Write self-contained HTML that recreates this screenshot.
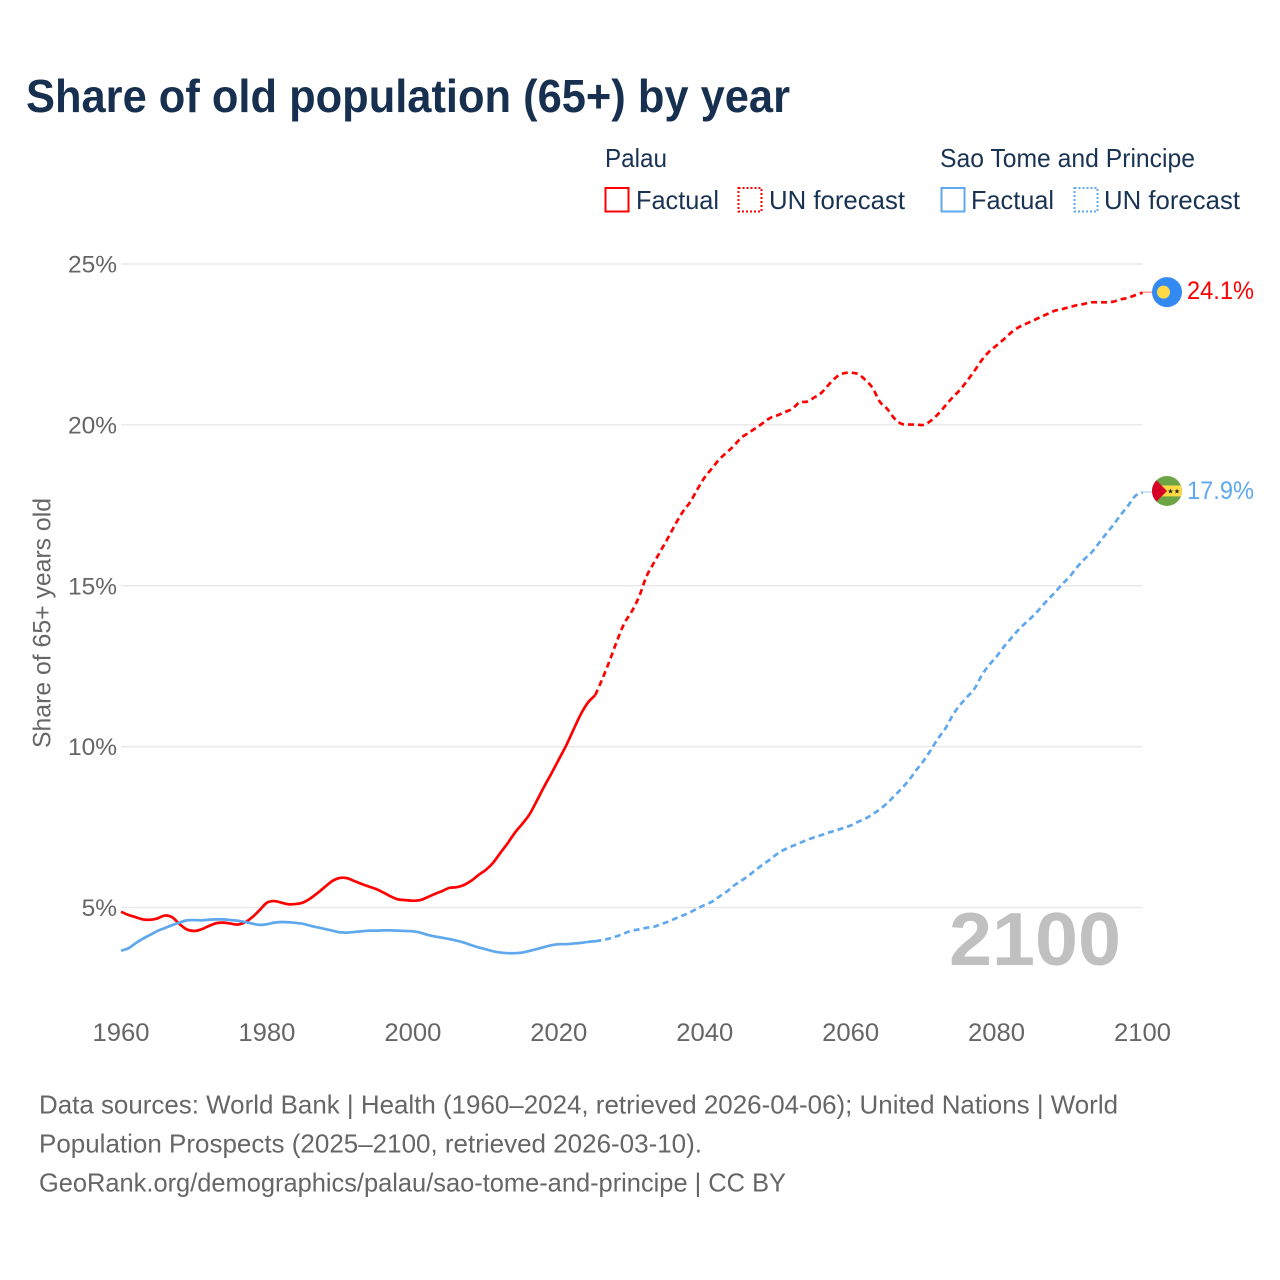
<!DOCTYPE html>
<html lang="en">
<head>
<meta charset="utf-8">
<title>Share of old population (65+) by year</title>
<style>
html,body{margin:0;padding:0;background:#fff;width:1280px;height:1280px;overflow:hidden}
svg{display:block}
text{font-family:"Liberation Sans",sans-serif}
</style>
</head>
<body>
<svg id="chart" xmlns="http://www.w3.org/2000/svg" width="1280" height="1280" viewBox="0 0 1280 1280">
  <rect width="1280" height="1280" fill="#fff"/>
  <text x="26" y="112" font-size="46" font-weight="700" fill="#18304f" textLength="764" lengthAdjust="spacingAndGlyphs">Share of old population (65+) by year</text>

  <g font-size="26" fill="#1a3353">
    <text x="605" y="167" textLength="62" lengthAdjust="spacingAndGlyphs">Palau</text>
    <rect x="605.5" y="188" width="23" height="23.5" fill="none" stroke="#ff0000" stroke-width="2"/>
    <text x="636" y="209" textLength="83" lengthAdjust="spacingAndGlyphs">Factual</text>
    <rect x="738.5" y="188" width="23" height="23.5" fill="none" stroke="#ff0000" stroke-width="2" stroke-dasharray="2 2"/>
    <text x="769" y="209" textLength="136" lengthAdjust="spacingAndGlyphs">UN forecast</text>

    <text x="940" y="167" textLength="255" lengthAdjust="spacingAndGlyphs">Sao Tome and Principe</text>
    <rect x="941.5" y="188" width="23" height="23.5" fill="none" stroke="#5fa8ee" stroke-width="2"/>
    <text x="971" y="209" textLength="83" lengthAdjust="spacingAndGlyphs">Factual</text>
    <rect x="1074.5" y="188" width="23" height="23.5" fill="none" stroke="#5fa8ee" stroke-width="2" stroke-dasharray="2 2"/>
    <text x="1104" y="209" textLength="136" lengthAdjust="spacingAndGlyphs">UN forecast</text>
  </g>

  <g id="grid"></g>
  <g id="yticks"></g>
  <g id="xticks"></g>

  <text transform="translate(50.5 748) rotate(-90)" font-size="25" fill="#666666" textLength="250" lengthAdjust="spacingAndGlyphs">Share of 65+ years old</text>

  <text id="year-watermark" x="949" y="965" font-size="75" font-weight="700" fill="#c0c0c0" textLength="172" lengthAdjust="spacingAndGlyphs">2100</text>

  <g id="series"></g>
  <g id="endpoints"></g>

  <g font-size="26" fill="#666666">
    <text x="39" y="1113.5" textLength="1079" lengthAdjust="spacingAndGlyphs">Data sources: World Bank | Health (1960–2024, retrieved 2026-04-06); United Nations | World</text>
    <text x="39" y="1152.5" textLength="663" lengthAdjust="spacingAndGlyphs">Population Prospects (2025–2100, retrieved 2026-03-10).</text>
    <text x="39" y="1191.5" textLength="747" lengthAdjust="spacingAndGlyphs">GeoRank.org/demographics/palau/sao-tome-and-principe | CC BY</text>
  </g>
</svg>

<script>
const xTickYears = [1960, 1980, 2000, 2020, 2040, 2060, 2080, 2100];
const yTickValues = [5, 10, 15, 20, 25];

const factualStartYear = 1960;
const forecastStartYear = 2025;

const palauFactual = [
  4.87,4.77,4.70,4.63,4.62,4.66,4.75,4.70,4.49,4.32,
  4.27,4.32,4.42,4.51,4.53,4.50,4.47,4.54,4.70,4.92,
  5.15,5.20,5.15,5.10,5.11,5.16,5.29,5.46,5.65,5.83,
  5.92,5.91,5.82,5.73,5.65,5.57,5.46,5.34,5.25,5.23,
  5.21,5.23,5.32,5.42,5.51,5.61,5.63,5.70,5.83,6.01,
  6.17,6.39,6.70,7.00,7.33,7.60,7.90,8.32,8.76,9.17,
  9.60,10.03,10.52,11.00,11.37,11.60
];
const palauForecast = [
  11.60,12.12,12.69,13.30,13.84,
  14.20,14.66,15.28,15.70,16.10,16.50,16.92,17.30,17.60,18.00,
  18.37,18.65,18.93,19.14,19.35,19.60,19.75,19.90,20.06,20.22,
  20.30,20.40,20.50,20.70,20.72,20.85,21.00,21.25,21.48,21.60,
  21.62,21.58,21.40,21.15,20.72,20.50,20.20,20.03,20.01,20.01,
  20.00,20.13,20.34,20.60,20.86,21.09,21.38,21.69,22.02,22.28,
  22.47,22.66,22.87,23.03,23.14,23.24,23.35,23.45,23.55,23.60,
  23.66,23.72,23.76,23.81,23.81,23.81,23.83,23.90,23.95,24.03,
  24.11
];
const saoTomeFactual = [
  3.66,3.73,3.89,4.03,4.15,4.27,4.36,4.45,4.53,4.60,
  4.61,4.60,4.62,4.63,4.63,4.61,4.59,4.55,4.50,4.46,
  4.48,4.53,4.55,4.54,4.52,4.49,4.43,4.38,4.33,4.28,
  4.23,4.22,4.24,4.26,4.28,4.28,4.29,4.29,4.28,4.27,
  4.26,4.22,4.15,4.10,4.06,4.02,3.97,3.91,3.83,3.76,
  3.70,3.64,3.60,3.58,3.58,3.60,3.65,3.71,3.77,3.83,
  3.86,3.86,3.88,3.90,3.93,3.95
];
const saoTomeForecast = [
  3.95,3.99,4.04,4.11,4.20,
  4.28,4.32,4.37,4.40,4.48,4.56,4.66,4.75,4.85,4.97,
  5.08,5.18,5.34,5.49,5.68,5.83,5.99,6.17,6.34,6.50,
  6.68,6.81,6.91,7.00,7.10,7.18,7.25,7.33,7.40,7.47,
  7.55,7.66,7.76,7.90,8.05,8.24,8.47,8.70,8.96,9.27,
  9.56,9.90,10.26,10.57,10.98,11.30,11.55,11.81,12.23,12.54,
  12.80,13.10,13.37,13.63,13.85,14.06,14.30,14.56,14.79,15.05,
  15.28,15.57,15.82,16.03,16.32,16.61,16.89,17.20,17.48,17.79,
  17.90
];

const NS = 'http://www.w3.org/2000/svg';
const RED = '#ff0000';
const BLUE = '#5fa8ee';

function xScale(year) { return 121 + (year - 1960) * (1142.5 - 121) / 140; }
function yScale(value) { return 907.5 - (value - 5) * (907.5 - 264) / 20; }

function make(tag, attrs, parent) {
  const el = document.createElementNS(NS, tag);
  for (const k in attrs) el.setAttribute(k, attrs[k]);
  parent.appendChild(el);
  return el;
}
function smoothPath(values, startYear) {
  const pts = values.map(function (v, i) {
    return [xScale(startYear + i), yScale(v)];
  });
  let d = 'M' + pts[0][0].toFixed(2) + ' ' + pts[0][1].toFixed(2);
  for (let i = 0; i < pts.length - 1; i++) {
    const p0 = pts[Math.max(i - 1, 0)];
    const p1 = pts[i];
    const p2 = pts[i + 1];
    const p3 = pts[Math.min(i + 2, pts.length - 1)];
    const c1x = p1[0] + (p2[0] - p0[0]) / 6;
    const c1y = p1[1] + (p2[1] - p0[1]) / 6;
    const c2x = p2[0] - (p3[0] - p1[0]) / 6;
    const c2y = p2[1] - (p3[1] - p1[1]) / 6;
    d += 'C' + c1x.toFixed(2) + ' ' + c1y.toFixed(2) + ' ' + c2x.toFixed(2) + ' ' + c2y.toFixed(2) + ' ' + p2[0].toFixed(2) + ' ' + p2[1].toFixed(2);
  }
  return d;
}

const gridG = document.getElementById('grid');
const yTicksG = document.getElementById('yticks');
const xTicksG = document.getElementById('xticks');
const seriesG = document.getElementById('series');
const endG = document.getElementById('endpoints');

yTickValues.forEach(function (v) {
  const gl = make('line', {x1: xScale(1960), x2: xScale(2100), y1: yScale(v), y2: yScale(v), stroke: '#e9e9e9', 'stroke-width': 1.4}, gridG);
  
  
  const t = make('text', {x: 117, y: yScale(v) + 8.5, 'text-anchor': 'end', 'font-size': 24.5, fill: '#666666'}, yTicksG);
  
  
  t.textContent = v + '%';
});

xTickYears.forEach(function (yr) {
  const t = make('text', {x: xScale(yr), y: 1041, 'text-anchor': 'middle', 'font-size': 25, fill: '#666666', textLength: 57, lengthAdjust: 'spacingAndGlyphs'}, xTicksG);
  
  
  t.textContent = yr;
});

function drawLine(values, startYear, color, dashed, name) {
  const attrs = {d: smoothPath(values, startYear), fill: 'none', stroke: color, 'stroke-width': 2.7, 'stroke-linejoin': 'round'};
  if (dashed) attrs['stroke-dasharray'] = '6 4';
  const p = make('path', attrs, seriesG);
  
  
}
drawLine(palauFactual, factualStartYear, RED, false, 'palau-factual-line');
drawLine(palauForecast, forecastStartYear, RED, true, 'palau-forecast-line');
drawLine(saoTomeFactual, factualStartYear, BLUE, false, 'sao-tome-factual-line');
drawLine(saoTomeForecast, forecastStartYear, BLUE, true, 'sao-tome-forecast-line');

function drawEnd(values, color, name) {
  const last = values[values.length - 1];
  const y = yScale(last);
  const c = make('line', {x1: xScale(2100), x2: 1153, y1: y - 0.5, y2: y - 0.5, stroke: color, 'stroke-width': 1, opacity: 0.6}, endG);
  
  
  const t = make('text', {x: 1187, y: y + 6.5, 'font-size': 25, fill: color, textLength: 67, lengthAdjust: 'spacingAndGlyphs'}, endG);
  
  
  t.textContent = last.toFixed(1) + '%';
  return y;
}

const palauEndY = drawEnd(palauForecast, RED, 'palau');
const saoEndY = drawEnd(saoTomeForecast, BLUE, 'sao-tome');

const palauFlag = make('g', {transform: 'translate(1167 ' + (palauEndY - 0.5) + ')'}, endG);


make('circle', {r: 15, fill: '#338af3'}, palauFlag);
make('circle', {cx: -3.5, r: 6.5, fill: '#ffda44'}, palauFlag);

const saoFlag = make('g', {transform: 'translate(1167 ' + (saoEndY - 1.5) + ')'}, endG);


make('circle', {r: 15, fill: '#6da544'}, saoFlag);
make('path', {d: 'M-13.6 -5.4H13.9A15 15 0 0 1 13.9 5.4H-13.6Z', fill: '#ffda44'}, saoFlag);
make('path', {d: 'M-10.6 -10.6L0 0L-10.6 10.6A15 15 0 0 1 -10.6 -10.6Z', fill: '#d80027'}, saoFlag);
make('path', {d: 'M3.5 -2.4L4.2 -0.5H6.2L4.6 0.7L5.2 2.6L3.5 1.4L1.8 2.6L2.4 0.7L0.8 -0.5H2.8Z', fill: '#222'}, saoFlag);
make('path', {d: 'M10 -2.4L10.7 -0.5H12.7L11.1 0.7L11.7 2.6L10 1.4L8.3 2.6L8.9 0.7L7.3 -0.5H9.3Z', fill: '#222'}, saoFlag);
</script>
</body>
</html>
